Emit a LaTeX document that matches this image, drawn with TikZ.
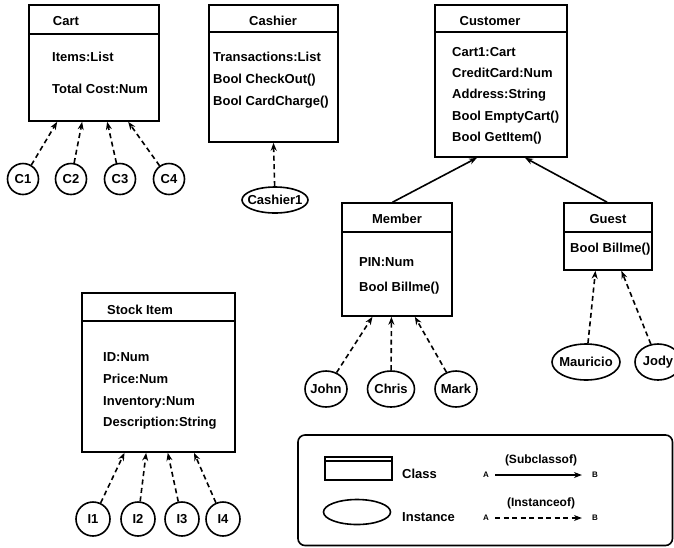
\documentclass[tikz,border=0pt]{standalone}
\usepackage{fontspec}
\setmainfont{Liberation Sans}
\usetikzlibrary{shapes.geometric,arrows.meta,calc}

% horizontal rule under a class title, #2 below the top edge
\newcommand\clsrule[2]{\draw[line width=1.6pt] ([yshift=-#2]#1.north west) -- ([yshift=-#2]#1.north east);}

\begin{document}
\begin{tikzpicture}[x=1pt,y=1pt,
  font=\fontsize{13}{15}\selectfont\bfseries,
  cls/.style={draw, line width=1.6pt, inner sep=0pt},
  obj/.style={circle, draw, line width=1.6pt, inner sep=0pt, minimum size=31pt},
  inst/.style={ellipse, draw, line width=1.6pt, inner sep=0pt},
  txt/.style={anchor=west, inner sep=0pt},
  ttl/.style={inner sep=0pt},
  isa/.style={line width=1.6pt, -{Stealth[length=8pt,width=6pt]}},
  ins/.style={isa, dash pattern=on 5pt off 3.5pt},
]
\useasboundingbox (0,0) rectangle (674,-547);

% ---------- Cart ----------
\node[cls, minimum width=130pt, minimum height=116pt] (cart) at (94,-63) {};
\clsrule{cart}{30pt}
\node[ttl] (cartT) at (66,-21) {Cart};
\node[txt] (cartA) at (52,-57) {Items:List};
\node[txt] (cartB) at (52,-89) {Total Cost:Num};

\node[obj] (c1) at (23,-179) {C1};
\node[obj] (c2) at (71,-179) {C2};
\node[obj] (c3) at (120,-179) {C3};
\node[obj] (c4) at (169,-179) {C4};
\draw[ins] (c1) -- ($(cart.south west)!0.22!(cart.south east)$);
\draw[ins] (c2) -- ($(cart.south west)!0.41!(cart.south east)$);
\draw[ins] (c3) -- ($(cart.south west)!0.60!(cart.south east)$);
\draw[ins] (c4) -- ($(cart.south west)!0.76!(cart.south east)$);

% ---------- Cashier ----------
\node[cls, minimum width=129pt, minimum height=137pt] (cashier) at (273.5,-73.5) {};
\clsrule{cashier}{28pt}
\node[ttl] (cashierT) at (273,-21) {Cashier};
\node[txt] (cashierA) at (213,-57) {Transactions:List};
\node[txt] (cashierB) at (213,-80) {Bool CheckOut()};
\node[txt] (cashierC) at (213,-102) {Bool CardCharge()};

\node[inst, minimum width=66pt, minimum height=26pt, label=center:Cashier1] (cashier1) at (275,-200) {};
\draw[ins] (cashier1) -- ($(cashier.south west)!0.5!(cashier.south east)$);

% ---------- Customer ----------
\node[cls, minimum width=132pt, minimum height=152pt] (customer) at (501,-81) {};
\clsrule{customer}{28pt}
\node[ttl] (customerT) at (490,-21) {Customer};
\node[txt] (customerA) at (452,-52) {Cart1:Cart};
\node[txt] (customerB) at (452,-73) {CreditCard:Num};
\node[txt] (customerC) at (452,-95) {Address:String};
\node[txt] (customerD) at (452,-117) {Bool EmptyCart()};
\node[txt] (customerE) at (452,-138) {Bool GetItem()};

% ---------- Member ----------
\node[cls, minimum width=110pt, minimum height=113pt] (member) at (397,-259.5) {};
\clsrule{member}{30pt}
\node[ttl] (memberT) at (397,-219) {Member};
\node[txt] (memberA) at (359,-262) {PIN:Num};
\node[txt] (memberB) at (359,-288) {Bool Billme()};

% ---------- Guest ----------
\node[cls, minimum width=88pt, minimum height=67pt] (guest) at (608,-236.5) {};
\clsrule{guest}{30pt}
\node[ttl] (guestT) at (608,-219) {Guest};
\node[txt] (guestA) at (570,-249) {Bool Billme()};

\draw[isa] ($(member.north west)!0.46!(member.north east)$) -- ($(customer.south west)!0.32!(customer.south east)$);
\draw[isa] ($(guest.north west)!0.49!(guest.north east)$) -- ($(customer.south west)!0.68!(customer.south east)$);

\node[inst, minimum width=42pt, minimum height=36pt, label=center:John] (john) at (326,-389) {};
\node[inst, minimum width=47pt, minimum height=36pt, label=center:Chris] (chris) at (391,-389) {};
\node[inst, minimum width=42pt, minimum height=36pt, label=center:Mark] (mark) at (456,-389) {};
\draw[ins] (john) -- ($(member.south west)!0.28!(member.south east)$);
\draw[ins] (chris) -- ($(member.south west)!0.45!(member.south east)$);
\draw[ins] (mark) -- ($(member.south west)!0.66!(member.south east)$);

\node[inst, minimum width=68pt, minimum height=36pt, label=center:Mauricio] (mauricio) at (586,-362) {};
\node[inst, minimum width=46pt, minimum height=36pt, label=center:Jody] (jody) at (658,-362) {};
\draw[ins] (mauricio) -- ($(guest.south west)!0.36!(guest.south east)$);
\draw[ins] (jody) -- ($(guest.south west)!0.65!(guest.south east)$);

% ---------- Stock Item ----------
\node[cls, minimum width=153pt, minimum height=159pt] (stock) at (158.5,-372.5) {};
\clsrule{stock}{29pt}
\node[ttl] (stockT) at (140,-310) {Stock Item};
\node[txt] (stockA) at (103,-357) {ID:Num};
\node[txt] (stockB) at (103,-379) {Price:Num};
\node[txt] (stockC) at (103,-402) {Inventory:Num};
\node[txt] (stockD) at (103,-423) {Description:String};

\node[obj, minimum size=34pt] (i1) at (93,-519) {I1};
\node[obj, minimum size=34pt] (i2) at (138,-519) {I2};
\node[obj, minimum size=34pt] (i3) at (182,-519) {I3};
\node[obj, minimum size=34pt] (i4) at (223,-519) {I4};
\draw[ins] (i1) -- ($(stock.south west)!0.28!(stock.south east)$);
\draw[ins] (i2) -- ($(stock.south west)!0.42!(stock.south east)$);
\draw[ins] (i3) -- ($(stock.south west)!0.56!(stock.south east)$);
\draw[ins] (i4) -- ($(stock.south west)!0.73!(stock.south east)$);

% ---------- Legend ----------
\draw[line width=1.6pt, rounded corners=7pt] (298,-435) rectangle (672.5,-545.5);
\node[cls, minimum width=67pt, minimum height=23pt] (legcls) at (358.5,-468.5) {};
\clsrule{legcls}{5pt}
\node[txt] (legclsT) at (402,-474) {Class};
\node[inst, minimum width=67pt, minimum height=25pt] (leginst) at (357,-512) {};
\node[txt] (leginstT) at (402,-517) {Instance};

\node[ttl, font=\fontsize{8}{9}\selectfont\bfseries] (a1) at (486,-475) {A};
\node[ttl, font=\fontsize{8}{9}\selectfont\bfseries] (b1) at (595,-475) {B};
\draw[isa] ([xshift=6pt]a1.east) -- ([xshift=-10pt]b1.west);
\node[ttl, font=\fontsize{12}{14}\selectfont\bfseries] (subT) at (541,-460) {(Subclassof)};

\node[ttl, font=\fontsize{8}{9}\selectfont\bfseries] (a2) at (486,-518) {A};
\node[ttl, font=\fontsize{8}{9}\selectfont\bfseries] (b2) at (595,-518) {B};
\draw[ins] ([xshift=6pt]a2.east) -- ([xshift=-10pt]b2.west);
\node[ttl, font=\fontsize{12}{14}\selectfont\bfseries] (insT) at (541,-503) {(Instanceof)};
\end{tikzpicture}
\end{document}
